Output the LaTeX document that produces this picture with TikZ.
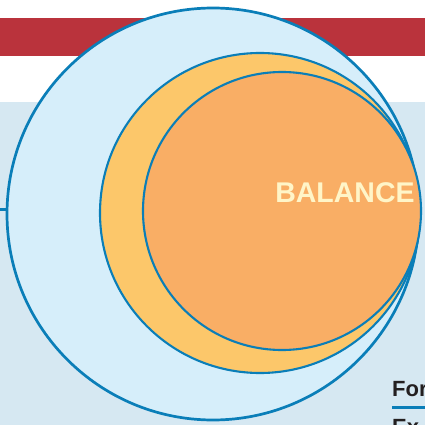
\documentclass[tikz,border=0pt]{standalone}
\usepackage{fontspec}
\setmainfont{Liberation Sans}
\definecolor{bandred}{HTML}{BA333C}
\definecolor{paleback}{HTML}{D6E8F2}
\definecolor{ringblue}{HTML}{0A7EB8}
\definecolor{skyfill}{HTML}{D6EEFA}
\definecolor{sunfill}{HTML}{FCC76A}
\definecolor{peachfill}{HTML}{F9AE65}
\definecolor{creamtext}{HTML}{FFF5C8}
\definecolor{inkgrey}{HTML}{231F20}
\begin{document}
\begin{tikzpicture}[x=1pt, y=-1pt]
\tikzset{rond/.style={draw=ringblue, circle, line width=2.1pt, inner sep=0pt},
  titre/.style={font=\bfseries\fontsize{22}{24}\selectfont, text=inkgrey, anchor=base west, inner sep=0pt}}
\clip (0, 0) rectangle (425, 425);
\fill[white] (0, 0) rectangle (425, 425);
\fill[bandred] (0, 18) rectangle (425, 56);
\fill[paleback] (0, 102) rectangle (425, 425);
\node[rond, line width=2.7pt, fill=skyfill, minimum size=412pt] (C1) at (213, 214) {};
\node[rond, fill=sunfill, minimum size=320pt] (C2) at (260, 213) {};
\node[rond, fill=peachfill, minimum size=278pt] (C3) at (282, 211) {};
\coordinate (T) at (0, 209);
\draw[ringblue, line width=3pt] (T) -- (C1.west |- T);
\node[font=\bfseries\fontsize{28.5}{30}\selectfont, text=creamtext] (B) at (345, 193) {BALANCE};
\node[titre] (F) at (392, 396.5) {For};
\coordinate (L) at (425, 407.3);
\draw[ringblue, line width=3pt] (F.west |- L) -- (L);
\node[titre] (E) at (392, 434.5) {Ex};
\end{tikzpicture}
\end{document}
